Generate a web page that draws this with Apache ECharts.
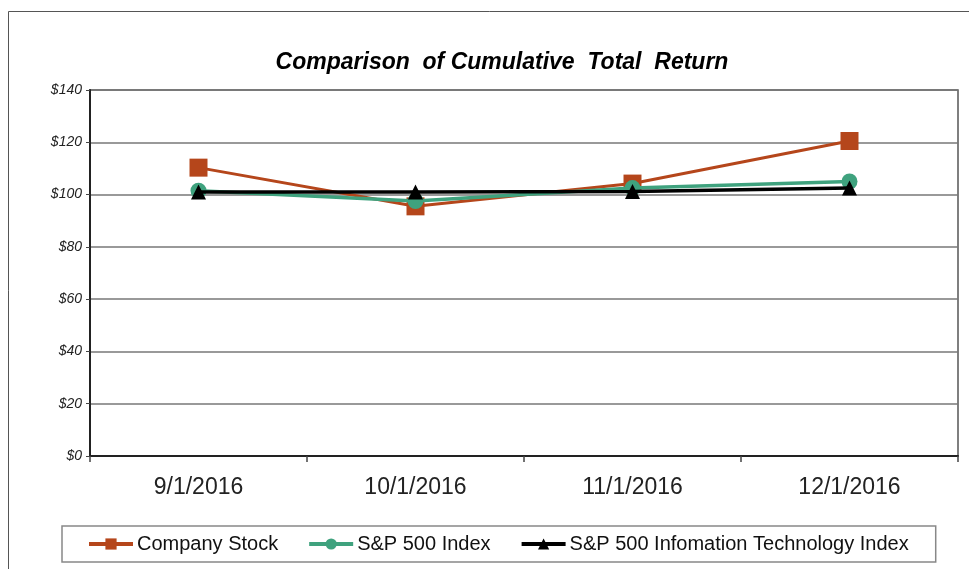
<!DOCTYPE html>
<html>
<head>
<meta charset="utf-8">
<script src="https://cdn.jsdelivr.net/npm/echarts@6/dist/echarts.min.js"></script>
<style>
  html, body { margin: 0; padding: 0; background: #fff; }
  #chart { width: 969px; height: 569px; }
</style>
</head>
<body>
<div id="chart"></div>
<script>
// data
var dates = ['9/1/2016', '10/1/2016', '11/1/2016', '12/1/2016'];
var companyStock = [110.3, 95.5, 104.2, 120.5];
var sp500 = [101.5, 97.5, 102.5, 105.0];
var sp500Tech = [101.0, 101.0, 101.2, 102.5];
var seriesNames = ['Company Stock', 'S&P 500 Index', 'S&P 500 Infomation Technology Index'];

var chart = echarts.init(document.getElementById('chart'));

var font = 'Liberation Sans, Arial, sans-serif';

var option = {
  animation: false,
  textStyle: { fontFamily: font },
  title: {
    text: 'Comparison  of Cumulative  Total  Return',
    left: 497,
    textAlign: 'center',
    top: 46,
    textStyle: { fontSize: 23, fontWeight: 'bold', fontStyle: 'italic', color: '#000', fontFamily: font }
  },
  graphic: [{
    type: 'rect',
    shape: { x: 8.5, y: 11.5, width: 980, height: 600 },
    style: { fill: 'none', stroke: '#555', lineWidth: 1 },
    silent: true
  }],
  legend: {
    data: seriesNames,
    top: 526,
    left: 62,
    itemWidth: 44,
    itemHeight: 14,
    itemGap: 29,
    padding: [8, 27, 8, 25],
    borderColor: '#888',
    borderWidth: 1.5,
    lineStyle: { width: 4 },
    textStyle: { fontSize: 20, color: '#111', fontFamily: font, padding: [0, 0, 0, -1] }
  },
  grid: {
    left: 90, right: 11, top: 90, bottom: 113,
    show: true,
    borderColor: '#555',
    borderWidth: 1.5
  },
  xAxis: {
    type: 'category',
    data: dates,
    boundaryGap: true,
    axisLine: { lineStyle: { color: '#222', width: 2 } },
    axisTick: { show: true, length: 6, lineStyle: { color: '#444', width: 1.5 } },
    axisLabel: { fontSize: 23, color: '#222', margin: 20, fontFamily: font }
  },
  yAxis: {
    type: 'value',
    min: 0, max: 140, interval: 20,
    axisLine: { show: true, lineStyle: { color: '#222', width: 2 } },
    axisTick: { show: true, length: 4, lineStyle: { color: '#444' } },
    axisLabel: {
      fontSize: 14, fontStyle: 'italic', color: '#222', margin: 8, fontFamily: font,
      formatter: function (v) { return '$' + v; }
    },
    splitLine: { lineStyle: { color: '#777', width: 1.5 } }
  },
  series: [
    {
      name: seriesNames[0], type: 'line', data: companyStock,
      symbol: 'rect', symbolSize: 18,
      lineStyle: { color: '#B5461B', width: 3 },
      itemStyle: { color: '#B5461B' },
      z: 3
    },
    {
      name: seriesNames[1], type: 'line', data: sp500,
      symbol: 'circle', symbolSize: 16,
      lineStyle: { color: '#3FA27E', width: 3.5 },
      itemStyle: { color: '#3FA27E' },
      z: 4
    },
    {
      name: seriesNames[2], type: 'line', data: sp500Tech,
      symbol: 'triangle', symbolSize: 15,
      lineStyle: { color: '#000', width: 3.5 },
      itemStyle: { color: '#000' },
      z: 5
    }
  ]
};

chart.setOption(option);
</script>
</body>
</html>
